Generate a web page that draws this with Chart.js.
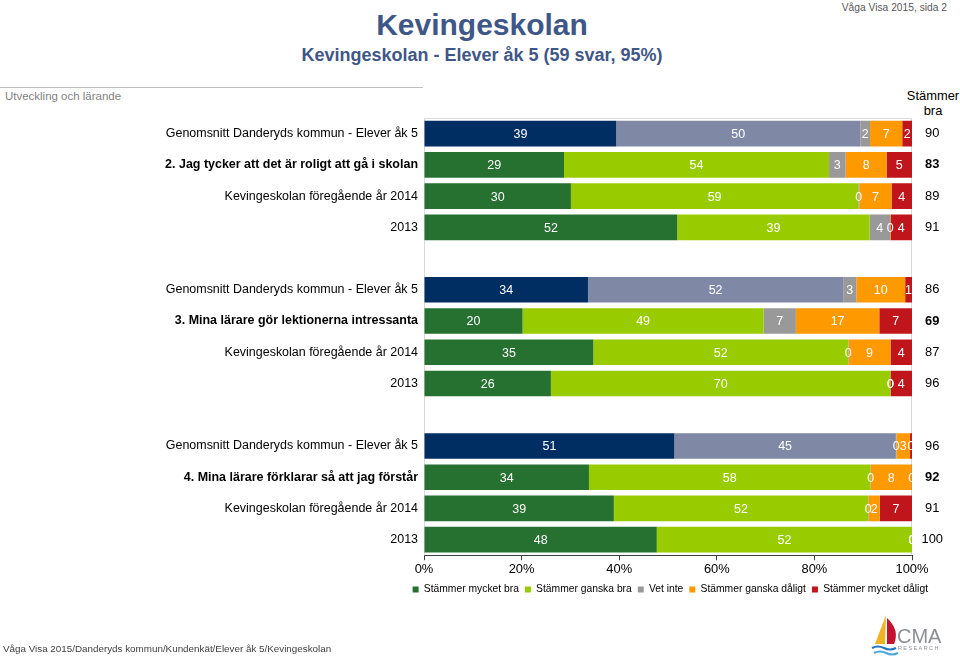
<!DOCTYPE html>
<html>
<head>
<meta charset="utf-8">
<script src="https://cdn.jsdelivr.net/npm/chart.js@4.4.0/dist/chart.umd.min.js"></script>
<style>
  html, body { margin: 0; padding: 0; background: #fff; }
  body { width: 960px; height: 657px; position: relative; overflow: hidden; font-family: "Liberation Sans", Arial, sans-serif; }
  .abs { position: absolute; white-space: nowrap; }
  #title { left: 0; width: 964px; top: 10px; line-height: 30px; text-align: center; font-size: 30px; font-weight: bold; color: #3f5787; }
  #subtitle { left: 0; width: 964px; top: 46px; line-height: 18px; text-align: center; font-size: 18px; font-weight: bold; color: #3f5787; }
  #page { right: 13px; top: 1px; color: #595959; }
  #rule { left: 0; top: 87px; width: 423px; height: 0; border-top: 1px solid #bfbfbf; }
  #section { left: 5px; top: 88px; color: #7f7f7f; }
  #head { left: 893px; width: 80px; top: 88px; text-align: center; color: #000; }
  #footer { left: 3px; top: 642px; color: #404040; }
  #wrap { left: 0; top: 0; width: 960px; height: 657px; }
  #logo { left: 870px; top: 613px; }
</style>
</head>
<body>
<div class="abs" id="title">Kevingeskolan</div>
<div class="abs" id="subtitle">Kevingeskolan - Elever åk 5 (59 svar, 95%)</div>
<div class="abs" id="page">Våga Visa 2015, sida 2</div>
<div class="abs" id="rule"></div>
<div class="abs" id="section">Utveckling och lärande</div>
<div class="abs" id="head">Stämmer<br>bra</div>
<div class="abs" id="wrap"><canvas id="chart" width="960" height="657"></canvas></div>
<div class="abs" id="footer">Våga Visa 2015/Danderyds kommun/Kundenkät/Elever åk 5/Kevingeskolan</div>
<svg class="abs" id="logo" width="80" height="44" viewBox="0 0 80 44">
  <path d="M16 2 L5 31 L15 31 Z" fill="#f0b323"/>
  <path d="M17 5 Q30 17 24 31 L17 31 Z" fill="#c4122f"/>
  <path d="M2 35 Q8 32 14 35 T26 35" stroke="#1f78c1" stroke-width="2" fill="none"/>
  <path d="M4 40 Q10 37 16 40 T28 40" stroke="#49a7de" stroke-width="2" fill="none"/>
  <text x="27" y="30" font-family="Liberation Sans, Arial, sans-serif" font-size="20" fill="#8c8f93">CMA</text>
  <text x="28" y="37" font-family="Liberation Sans, Arial, sans-serif" font-size="5.5" letter-spacing="1.4" fill="#8c8f93">RESEARCH</text>
</svg>
<script>
// rows: 3 questions, 4 rows each, blank slot between groups
const categories = [
  'Genomsnitt Danderyds kommun - Elever åk 5',
  '2. Jag tycker att det är roligt att gå i skolan',
  'Kevingeskolan föregående år 2014',
  '2013',
  '',
  'Genomsnitt Danderyds kommun - Elever åk 5',
  '3. Mina lärare gör lektionerna intressanta',
  'Kevingeskolan föregående år 2014',
  '2013',
  '',
  'Genomsnitt Danderyds kommun - Elever åk 5',
  '4. Mina lärare förklarar så att jag förstår',
  'Kevingeskolan föregående år 2014',
  '2013'
];
const seriesNames = ['Stämmer mycket bra', 'Stämmer ganska bra', 'Vet inte', 'Stämmer ganska dåligt', 'Stämmer mycket dåligt'];

// percent per answer
const mycketBra    = [39.4, 28.7, 30.1, 51.9, null, 33.6, 20.2, 34.7, 26.0, null, 51.3, 33.8, 38.9, 47.7];
const ganskaBra    = [50.0, 54.3, 58.9, 39.4, null, 52.3, 49.4, 52.2, 69.6, null, 45.4, 57.7, 52.1, 52.3];
const vetInte      = [2.0, 3.4, 0.2, 4.2, null, 2.7, 6.6, 0.1, 0, null, 0.1, 0.1, 0.1, 0];
const ganskaDaligt = [6.6, 8.4, 6.6, 0.1, null, 10.0, 17.1, 8.6, 0, null, 2.8, 8.3, 2.3, 0];
const mycketDaligt = [2.0, 5.2, 4.2, 4.4, null, 1.4, 6.7, 4.4, 4.4, null, 0.4, 0.1, 6.6, 0];

// "Stämmer bra" column
const stammerBra = ['90', '83', '89', '91', '', '86', '69', '87', '96', '', '96', '92', '91', '100'];

const avgRows = [0, 5, 10];
const boldRows = [1, 6, 11];

const NAVY = '#002d62', BLUEGRAY = '#7f89a5';
const seriesColors = ['#267030', '#99cc00', '#999999', '#ff9900', '#c0151b'];

// the chart text uses a narrow face; fall back to a scaled regular one
function hasNarrow() {
  const c = document.createElement('canvas').getContext('2d');
  c.font = '20px "Liberation Sans Narrow", monospace';
  const a = c.measureText('Stämmer mycket bra').width;
  c.font = '20px monospace';
  const b = c.measureText('Stämmer mycket bra').width;
  return a !== b;
}
const NARROW = hasNarrow();
const FAM = NARROW ? '"Liberation Sans Narrow", "Liberation Sans", sans-serif' : '"Liberation Sans", Arial, sans-serif';
const K = NARROW ? 1 : 0.86;

function setText(id, size, lh) {
  const el = document.getElementById(id);
  el.style.fontFamily = FAM;
  el.style.fontSize = (size * (NARROW ? 1 : 0.82)) + 'px';
  if (lh) el.style.lineHeight = lh + 'px';
}
setText('page', 12.5, 14);
setText('section', 14, 16);
setText('head', 15, 15);
setText('footer', 12, 14);
document.getElementById('head').style.fontSize = (15 * K) + 'px';

const frame = {
  id: 'frame',
  beforeDatasetsDraw(chart) {
    const { ctx, chartArea: a } = chart;
    ctx.save();
    ctx.strokeStyle = '#d9d9d9';
    ctx.lineWidth = 1;
    ctx.beginPath();
    ctx.moveTo(a.left + 0.5, a.bottom);
    ctx.lineTo(a.left + 0.5, a.top + 0.5);
    ctx.lineTo(a.right - 0.5, a.top + 0.5);
    ctx.lineTo(a.right - 0.5, a.bottom);
    ctx.stroke();
    ctx.restore();
  }
};

const valueLabels = {
  id: 'valueLabels',
  afterDatasetsDraw(chart) {
    const { ctx, chartArea: a } = chart;
    ctx.save();
    ctx.beginPath();
    ctx.rect(a.left, a.top, a.right - a.left, a.bottom - a.top);
    ctx.clip();
    ctx.fillStyle = '#fff';
    ctx.font = (14.5 * K) + 'px ' + FAM;
    ctx.textAlign = 'center';
    ctx.textBaseline = 'middle';
    chart.data.datasets.forEach((ds, di) => {
      chart.getDatasetMeta(di).data.forEach((bar, i) => {
        const v = ds.data[i];
        if (v === null) return;
        ctx.fillText(String(Math.round(v)), (bar.x + bar.base) / 2, bar.y + 1);
      });
    });
    ctx.restore();
  }
};

const seriesData = [mycketBra, ganskaBra, vetInte, ganskaDaligt, mycketDaligt];
const datasets = seriesData.map((d, si) => ({
  label: seriesNames[si],
  data: d,
  backgroundColor: categories.map((c, i) => {
    if (avgRows.includes(i) && si === 0) return NAVY;
    if (avgRows.includes(i) && si === 1) return BLUEGRAY;
    return seriesColors[si];
  }),
  borderWidth: 0,
  barPercentage: 0.82,
  categoryPercentage: 1
}));

new Chart(document.getElementById('chart'), {
  type: 'bar',
  data: { labels: categories, datasets: datasets },
  options: {
    indexAxis: 'y',
    responsive: false,
    animation: false,
    layout: { padding: { top: 118, bottom: 52.4, left: 0, right: 26 } },
    scales: {
      x: {
        stacked: true,
        min: 0,
        max: 100,
        ticks: { stepSize: 20, callback: (v) => v + '%', color: '#000', padding: 1, font: { family: FAM, size: 15 * K } },
        grid: { display: true, drawOnChartArea: false, drawTicks: true, tickLength: 5, color: '#404040' },
        border: { display: true, color: '#404040' },
        afterFit: (s) => { s.height = 23; }
      },
      y: {
        stacked: true,
        ticks: {
          autoSkip: false,
          color: '#000',
          padding: 6,
          font: (ctx) => ({ family: FAM, size: 14.5 * K, weight: boldRows.includes(ctx.index) ? 'bold' : 'normal' })
        },
        grid: { display: false, drawTicks: false },
        border: { display: false },
        afterFit: (s) => { s.width = 424; }
      },
      y2: {
        type: 'category',
        labels: stammerBra,
        position: 'right',
        offset: true,
        ticks: {
          autoSkip: false,
          mirror: true,
          crossAlign: 'center',
          color: '#000',
          padding: 31,
          font: (ctx) => ({ family: FAM, size: 15 * K, weight: boldRows.includes(ctx.index) ? 'bold' : 'normal' })
        },
        grid: { display: false, drawTicks: false },
        border: { display: false },
        afterFit: (s) => { s.width = 22; }
      }
    },
    plugins: {
      tooltip: { enabled: false },
      legend: {
        position: 'bottom',
        align: 'end',
        labels: {
          boxWidth: 6,
          boxHeight: 6,
          padding: 6,
          color: '#000',
          font: { family: FAM, size: 12 * K },
          generateLabels: () => seriesNames.map((n, i) => ({
            text: n,
            fillStyle: seriesColors[i],
            strokeStyle: seriesColors[i],
            lineWidth: 0,
            hidden: false,
            datasetIndex: i,
            fontColor: '#000'
          }))
        }
      }
    }
  },
  plugins: [frame, valueLabels]
});
</script>
</body>
</html>
